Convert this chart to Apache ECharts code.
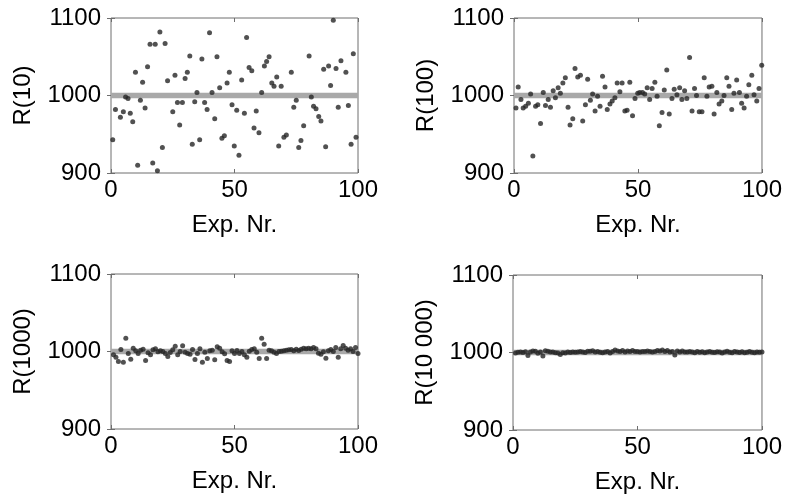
<!DOCTYPE html>
<html><head><meta charset="utf-8">
<script src="https://cdn.jsdelivr.net/npm/echarts@6/dist/echarts.min.js"></script>
<style>html,body{margin:0;padding:0;background:#fff}#c{width:785px;height:499px}</style>
</head><body><div id="c"></div>
<script>
// ---- data ----
const yNames = ['R(10)', 'R(100)', 'R(1000)', 'R(10 000)'];
const xName = 'Exp. Nr.';
const trueValue = 1000;
const bandHalfWidth = 3.6;

// [experiment number, measured value]
const r10 = [[0.7,943],[1.8,982],[3.8,972],[5,979],[5.9,998],[6.9,996],[7.8,977],[8.8,966],[9.9,1030],[10.8,910],[11.9,994],[12.8,1017],[13.8,984],[14.8,1037],[15.8,1066],[16.9,913],[17.9,1066],[18.8,903],[19.8,1082],[20.8,933],[21.9,1067],[22.9,1019],[25,979],[25.9,1026],[26.9,991],[27.8,962],[28.9,991],[30,1022],[30.9,1030],[31.9,1051],[32.9,937],[33.9,992],[34.8,1004],[35.9,943],[36.8,1047],[37.9,991],[38.9,982],[39.9,1081],[40.9,1004],[42,970],[42.9,1050],[44,1010],[44.9,945],[45.9,948],[47,1016],[47.9,1030],[49,988],[49.9,935],[50.9,981],[51.8,923],[52.9,1020],[54,977],[54.9,1075],[55.9,1036],[57,1032],[57.9,958],[58.8,980],[59.9,952],[61,1004],[62.1,1038],[63,1044],[64,1050],[65.1,1016],[66,1012],[67.1,1024],[67.9,935],[68.9,1012],[70,946],[71,949],[73,1030],[74,985],[75,994],[76,933],[76.9,942],[78,961],[80.2,1051],[81.1,998],[82,986],[83,983],[84.1,973],[85,967],[86.1,1034],[86.9,934],[88.1,1038],[88.9,1013],[90,1097],[91.1,1035],[92,985],[93.1,1045],[95.1,1030],[96.1,987],[97.2,937],[98.1,1054],[99.2,946],[100.1,964]];

const r100 = [[0.8,984],[1.7,1011],[2.8,995],[3.7,984],[4.7,986],[5.8,990],[6.7,1002],[7.6,922],[8.7,986],[9.6,988],[10.7,964],[11.8,1004],[12.7,987],[13.8,995],[14.7,985],[15.8,1006],[16.7,997],[17.8,1010],[18.7,1003],[19.7,1016],[20.7,1023],[21.8,985],[22.6,962],[23.7,970],[24.6,1035],[25.7,1024],[26.8,1026],[27.7,967],[28.8,988],[29.7,1021],[30.8,994],[31.7,1002],[32.7,980],[33.7,999],[34.7,986],[35.7,1025],[36.7,1011],[37.6,982],[38.7,989],[39.6,993],[40.7,997],[41.6,1016],[42.7,1005],[43.6,1016],[44.7,980],[45.6,981],[46.7,1017],[47.8,974],[48.8,996],[49.9,1003],[50.7,1004],[51.8,1004],[52.7,1002],[53.7,1010],[54.7,995],[55.7,1009],[56.8,1017],[57.7,999],[58.6,961],[59.7,978],[60.6,1007],[61.6,1033],[62.6,976],[63.7,996],[64.6,1008],[65.7,1001],[66.8,1010],[67.7,995],[68.8,1006],[69.7,996],[70.8,1049],[71.8,980],[72.8,1009],[73.6,1000],[74.7,979],[75.8,979],[76.7,1023],[77.8,999],[78.7,1011],[79.8,1012],[80.7,976],[81.8,1004],[82.7,989],[83.8,993],[84.7,1000],[85.8,1023],[86.7,1012],[87.8,982],[88.7,1003],[89.8,1020],[90.9,1004],[91.8,990],[92.8,984],[93.8,999],[94.7,1014],[95.9,1026],[96.8,1001],[97.9,993],[98.8,1009],[99.9,1039]];

// values for experiments 1..100
const r1000 = [995.7,992.7,987.1,1002.6,986.2,1017.2,997.4,990.1,1004.3,1000.9,997.4,1001.7,1003,988.4,998.3,995.7,1002.2,1003.4,999.6,1000.9,1000,997.4,993.5,998.7,1002.2,1006.9,995.7,1000,1007.3,999.1,997.4,996.6,1002.6,989.7,997.4,1003.4,986.2,999.1,991,1000.9,1001.7,989.2,1006,1004.3,999.6,997,988.4,987.1,1000.9,997.4,1001.3,997.4,1000,995.7,992.7,1000.4,1002.6,1003.4,999.1,991,1017.2,1009.5,991,1001.7,1000.9,999.1,997.4,1000,1000.4,1000.9,1001.7,1002.2,1002.6,1000.9,1003,1001.3,1003,1004.3,1003.4,1004.3,1003.4,1005.2,1003.4,997.8,996.6,999.6,991.4,1000.9,1002.6,1000,1005.2,992.7,1003.4,1007.7,1004.3,1001.7,1003.4,1000,1005.2,997.4];

const r10000 = [999.5,1000.2,1000.8,1000,1001,996,1000.6,1002,1001.5,999,1000.6,995.5,1002.2,1001.6,1000.8,1000.6,999.8,999.2,997.5,999.8,999.2,1000.8,1000,1000.6,1000.4,1000.8,1001.4,1000.6,1000,1001.6,1001.6,1002.2,1000.6,1001.4,1000.4,999.8,1000.6,1001.4,999.2,1001.4,1003.2,1002,1001.4,1002.6,1000.6,1002,1001.4,1002.6,1001.4,1001.4,1000.6,1001.4,1001.4,1002,1001.4,1000.6,1001.4,1002.6,1002,1003.2,1001.4,1002.6,1000.6,1001.4,996.8,1002,1000.6,1002,1000.6,1000.6,1001.4,1000.6,999.8,1001.4,1000.2,1001,999.6,1000.8,1001.2,1000.4,1000,1001,1000.6,999.4,1000.8,1001.6,1000.2,999.8,1001.2,1000.6,1000,1001,999.6,1000.4,1001.2,1000.2,999.8,1000.6,1000.4,1000.8];

const xMin = 0, xMax = 100, xInterval = 50;
const yMin = 900, yMax = 1100, yInterval = 100;

// ---- layout ----
const grids = [
  {left: 111, top: 18, width: 247, height: 155},
  {left: 514, top: 18, width: 249, height: 155},
  {left: 111, top: 274, width: 247, height: 155},
  {left: 513, top: 275, width: 250, height: 155}
];
const seriesData = [
  r10,
  r100,
  r1000.map((v, i) => [i + 1, v]),
  r10000.map((v, i) => [i + 1, v])
];

const FONT = 'Liberation Sans, Arial, sans-serif';
const FS = 24;
const frameColor = '#6e6e6e';
const tick = {show: true, inside: true, length: 4, lineStyle: {color: frameColor}};
const plain = v => String(v);

const option = {
  animation: false,
  backgroundColor: '#fff',
  grid: grids.map(g => Object.assign({show: true, borderColor: frameColor, borderWidth: 1, backgroundColor: 'transparent'}, g)),
  xAxis: [], yAxis: [], series: []
};

grids.forEach((g, i) => {
  option.xAxis.push({
    type: 'value', gridIndex: i, min: xMin, max: xMax, interval: xInterval,
    name: xName, nameLocation: 'middle', nameGap: 40,
    nameTextStyle: {fontFamily: FONT, fontSize: FS, color: '#000'},
    axisLine: {show: false}, axisTick: tick, splitLine: {show: false},
    axisLabel: {fontFamily: FONT, fontSize: FS, color: '#000', margin: 5, formatter: plain}
  });
  option.yAxis.push({
    type: 'value', gridIndex: i, min: yMin, max: yMax, interval: yInterval,
    name: yNames[i], nameLocation: 'middle', nameGap: 76,
    nameTextStyle: {fontFamily: FONT, fontSize: FS, color: '#000'},
    axisLine: {show: false}, axisTick: tick, splitLine: {show: false},
    axisLabel: {fontFamily: FONT, fontSize: FS, color: '#000', margin: 10, formatter: plain}
  });
});
grids.forEach((g, i) => {
  option.xAxis.push({
    type: 'value', gridIndex: i, position: 'top', min: xMin, max: xMax, interval: xInterval,
    axisLine: {show: false}, axisTick: tick, splitLine: {show: false}, axisLabel: {show: false}
  });
  option.yAxis.push({
    type: 'value', gridIndex: i, position: 'right', min: yMin, max: yMax, interval: yInterval,
    axisLine: {show: false}, axisTick: tick, splitLine: {show: false}, axisLabel: {show: false}
  });
});

grids.forEach((g, i) => {
  option.series.push({
    type: 'scatter', xAxisIndex: i, yAxisIndex: i,
    data: seriesData[i],
    symbolSize: 5,
    itemStyle: {color: '#262626'},
    markArea: {
      silent: true,
      itemStyle: {color: '#a9a9a9'},
      data: [[{xAxis: xMin, yAxis: trueValue - bandHalfWidth}, {xAxis: xMax, yAxis: trueValue + bandHalfWidth}]]
    },
    z: 3
  });
});

const chart = echarts.init(document.getElementById('c'), null, {renderer: 'canvas'});
chart.setOption(option);
</script></body></html>
